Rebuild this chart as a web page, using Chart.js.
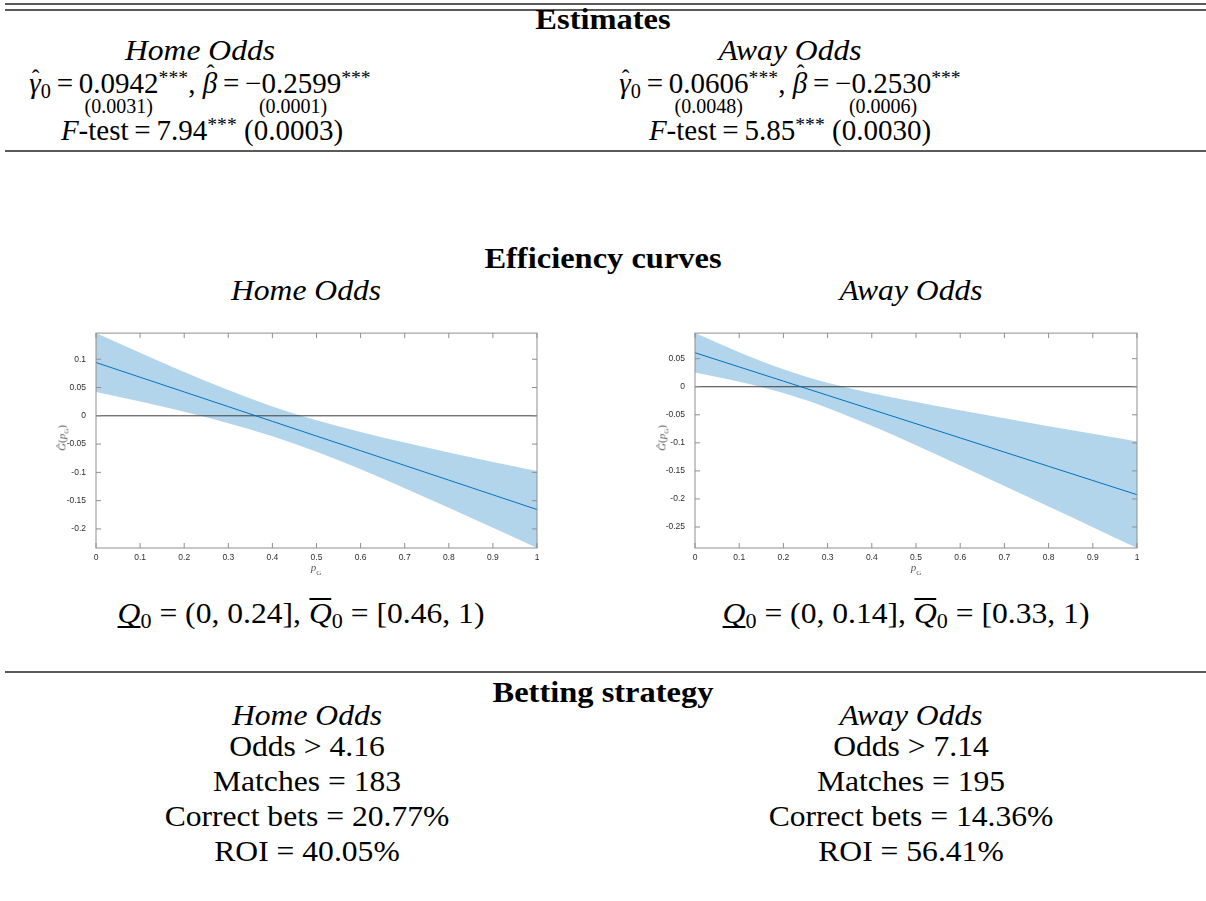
<!DOCTYPE html>
<html lang="en">

<head>
    <meta charset="UTF-8">
    <title>Estimates, efficiency curves and betting strategy</title>
    <script src="https://cdn.jsdelivr.net/npm/chart.js"></script>
    <style>
        body { margin: 0; background: #fff; }
        #page { position: relative; width: 1206px; height: 901px; overflow: hidden; }
        .t {
            position: absolute; transform: translateX(-50%) scaleX(1.09); white-space: nowrap;
            font-family: "Liberation Serif", serif; font-size: 29px; line-height: 30px; color: #000;
        }
        .b { font-weight: bold; transform: translateX(-50%) scaleX(1.12); }
        .n { transform: translateX(-50%); }
        .i { font-style: italic; }
        .rule { position: absolute; left: 5px; right: 0; height: 2px; background: #5a5a5a; }
        .st { font-size: 0.68em; vertical-align: 0.45em; line-height: 0; }
        .sb { font-size: 0.7em; vertical-align: -0.25em; line-height: 0; font-style: normal; }
        .eq { margin: 0 0.2em; }
        .hat { position: relative; display: inline-block; font-style: italic; }
        .hat::after { content: "\02C6"; position: absolute; left: 55%; transform: translateX(-50%); font-style: normal; font-size: 0.8em; }
        .hg::after { top: -0.2em; }
        .hb::after { top: -0.42em; }
        .us { position: relative; display: inline-block; }
        .us .low { position: absolute; left: 50%; top: 28px; transform: translateX(-50%); font-size: 20px; line-height: 20px; }
        .ul { display: inline-block; border-bottom: 2px solid #000; line-height: 26px; font-style: italic; }
        .ol { display: inline-block; border-top: 2px solid #000; line-height: 26px; font-style: italic; }
        canvas { position: absolute; }
        .ax { position: absolute; font-family: "Liberation Serif", serif; font-size: 11px; color: #555; white-space: nowrap; }
        .ax sub { font-size: 7px; }
    </style>
</head>

<body>
    <div id="page">
        <div class="rule" style="top:3px"></div>
        <div class="rule" style="top:9px"></div>

        <div class="t b" style="left:603px; top:4px">Estimates</div>
        <div class="t i" style="left:200px; top:35px">Home Odds</div>
        <div class="t i" style="left:790px; top:35px">Away Odds</div>
        <div class="t n" style="left:200px; top:68px"><span class="hat hg">γ</span><span class="sb">0</span><span class="eq">=</span><span class="us">0.0942<span class="low">(0.0031)</span></span><span class="st">***</span>, <span class="hat hb">β</span><span class="eq">=</span><span class="us">−0.2599<span class="low">(0.0001)</span></span><span class="st">***</span></div>
        <div class="t n" style="left:790px; top:68px"><span class="hat hg">γ</span><span class="sb">0</span><span class="eq">=</span><span class="us">0.0606<span class="low">(0.0048)</span></span><span class="st">***</span>, <span class="hat hb">β</span><span class="eq">=</span><span class="us">−0.2530<span class="low">(0.0006)</span></span><span class="st">***</span></div>
        <div class="t n" style="left:202px; top:115px"><i>F</i>-test<span class="eq">=</span>7.94<span class="st">***</span> (0.0003)</div>
        <div class="t n" style="left:790px; top:115px"><i>F</i>-test<span class="eq">=</span>5.85<span class="st">***</span> (0.0030)</div>
        <div class="rule" style="top:150px"></div>

        <div class="t b" style="left:603px; top:243px">Efficiency curves</div>
        <div class="t i" style="left:306px; top:275px">Home Odds</div>
        <div class="t i" style="left:911px; top:275px">Away Odds</div>

        <canvas id="homeChart" width="530" height="262" style="left:20px; top:318px"></canvas>
        <canvas id="awayChart" width="530" height="262" style="left:620px; top:318px"></canvas>
        <div class="ax" style="left:63px; top:438px; transform:translate(-50%,-50%) rotate(-90deg)"><i>Ĝ</i>(<i>p</i><sub>G</sub>)</div>
        <div class="ax" style="left:316px; top:569px; transform:translate(-50%,-50%)"><i>p</i><sub>G</sub></div>
        <div class="ax" style="left:663px; top:438px; transform:translate(-50%,-50%) rotate(-90deg)"><i>Ĝ</i>(<i>p</i><sub>G</sub>)</div>
        <div class="ax" style="left:916px; top:569px; transform:translate(-50%,-50%)"><i>p</i><sub>G</sub></div>

        <div class="t" style="left:301px; top:598px"><span class="ul">Q</span><span class="sb">0</span> = (0, 0.24], <span class="ol">Q</span><span class="sb">0</span> = [0.46, 1)</div>
        <div class="t" style="left:906px; top:598px"><span class="ul">Q</span><span class="sb">0</span> = (0, 0.14], <span class="ol">Q</span><span class="sb">0</span> = [0.33, 1)</div>
        <div class="rule" style="top:671px"></div>

        <div class="t b" style="left:603px; top:677px">Betting strategy</div>
        <div class="t i" style="left:307px; top:700px">Home Odds</div>
        <div class="t i" style="left:911px; top:700px">Away Odds</div>
        <div class="t" style="left:307px; top:731px">Odds &gt; 4.16</div>
        <div class="t" style="left:911px; top:731px">Odds &gt; 7.14</div>
        <div class="t" style="left:307px; top:766px">Matches = 183</div>
        <div class="t" style="left:911px; top:766px">Matches = 195</div>
        <div class="t" style="left:307px; top:801px">Correct bets = 20.77%</div>
        <div class="t" style="left:911px; top:801px">Correct bets = 14.36%</div>
        <div class="t" style="left:307px; top:836px">ROI = 40.05%</div>
        <div class="t" style="left:911px; top:836px">ROI = 56.41%</div>
    </div>

    <script>
        // p_G grid
        const pG = [0, 0.1, 0.2, 0.3, 0.4, 0.5, 0.6, 0.7, 0.8, 0.9, 1];

        // Home odds: fitted curve and confidence band
        const homeFit = [0.0942, 0.0682, 0.0422, 0.0162, -0.0098, -0.0358, -0.0617, -0.0877, -0.1137, -0.1397, -0.1657];
        const homeUpper = [0.1462, 0.1113, 0.0774, 0.0454, 0.0166, -0.0080, -0.0288, -0.0474, -0.0648, -0.0815, -0.0977];
        const homeLower = [0.0422, 0.0251, 0.0070, -0.0130, -0.0362, -0.0636, -0.0946, -0.1280, -0.1626, -0.1979, -0.2337];

        // Away odds
        const awayFit = [0.0606, 0.0353, 0.0100, -0.0153, -0.0406, -0.0659, -0.0912, -0.1165, -0.1418, -0.1671, -0.1924];
        const awayUpper = [0.0956, 0.0616, 0.0312, 0.0071, -0.0115, -0.0274, -0.0421, -0.0563, -0.0702, -0.0838, -0.0974];
        const awayLower = [0.0256, 0.0090, -0.0112, -0.0377, -0.0697, -0.1044, -0.1403, -0.1767, -0.2134, -0.2504, -0.2874];

        // zero reference line
        const zeroX = [0, 1];
        const zeroY = [0, 0];

        // ticks
        const xTicks = [0, 0.1, 0.2, 0.3, 0.4, 0.5, 0.6, 0.7, 0.8, 0.9, 1];
        const homeYTicks = [-0.2, -0.15, -0.1, -0.05, 0, 0.05, 0.1];
        const awayYTicks = [-0.25, -0.2, -0.15, -0.1, -0.05, 0, 0.05];

        const toPoints = (xs, ys) => xs.map((x, i) => ({ x: x, y: ys[i] }));
        const fmt = v => String(+(+v).toFixed(2));

        // matlab style box with inward ticks
        const boxPlugin = {
            id: 'box',
            afterDatasetsDraw(chart) {
                const ctx = chart.ctx, a = chart.chartArea;
                const sx = chart.scales.x, sy = chart.scales.y;
                ctx.save();
                ctx.strokeStyle = '#8f8f8f';
                ctx.lineWidth = 1;
                ctx.strokeRect(a.left, a.top, a.right - a.left, a.bottom - a.top);
                ctx.beginPath();
                sx.ticks.forEach(t => {
                    const px = sx.getPixelForValue(t.value);
                    ctx.moveTo(px, a.bottom); ctx.lineTo(px, a.bottom - 5);
                    ctx.moveTo(px, a.top); ctx.lineTo(px, a.top + 5);
                });
                sy.ticks.forEach(t => {
                    const py = sy.getPixelForValue(t.value);
                    ctx.moveTo(a.left, py); ctx.lineTo(a.left + 5, py);
                    ctx.moveTo(a.right, py); ctx.lineTo(a.right - 5, py);
                });
                ctx.stroke();
                ctx.restore();
            }
        };

        function makeChart(id, fit, upper, lower, yTicks, yMin, yMax, yWidth) {
            const tickFont = { family: 'Liberation Sans', size: 8.5 };
            return new Chart(document.getElementById(id), {
                type: 'line',
                data: {
                    datasets: [
                        { data: toPoints(pG, upper), borderWidth: 0, pointRadius: 0, fill: '+1', backgroundColor: 'rgb(179,213,235)', cubicInterpolationMode: 'monotone', order: 3 },
                        { data: toPoints(pG, lower), borderWidth: 0, pointRadius: 0, fill: false, cubicInterpolationMode: 'monotone', order: 3 },
                        { data: toPoints(zeroX, zeroY), borderColor: '#3c3c3c', borderWidth: 1, pointRadius: 0, fill: false, order: 2 },
                        { data: toPoints(pG, fit), borderColor: '#0072BD', borderWidth: 1, pointRadius: 0, fill: false, order: 1 }
                    ]
                },
                options: {
                    responsive: false,
                    animation: false,
                    events: [],
                    layout: { padding: { left: 0, right: 13, top: 10, bottom: 0 } },
                    plugins: {
                        legend: { display: false },
                        tooltip: { enabled: false },
                        filler: { drawTime: 'beforeDatasetsDraw' }
                    },
                    scales: {
                        x: {
                            type: 'linear', min: 0, max: 1,
                            afterBuildTicks: s => { s.ticks = xTicks.map(v => ({ value: v })); },
                            afterFit: s => { s.height = 32; },
                            grid: { display: false, drawTicks: false },
                            border: { display: false },
                            ticks: { padding: 5, font: tickFont, color: '#2e2e2e', callback: fmt, maxRotation: 0, autoSkip: false }
                        },
                        y: {
                            min: yMin, max: yMax,
                            afterBuildTicks: s => { s.ticks = yTicks.map(v => ({ value: v })); },
                            afterFit: s => { s.width = yWidth; },
                            grid: { display: false, drawTicks: false },
                            border: { display: false },
                            ticks: { padding: 10, font: tickFont, color: '#2e2e2e', callback: fmt, autoSkip: false }
                        }
                    }
                },
                plugins: [boxPlugin]
            });
        }

        makeChart('homeChart', homeFit, homeUpper, homeLower, homeYTicks, -0.2337, 0.1462, 76);
        makeChart('awayChart', awayFit, awayUpper, awayLower, awayYTicks, -0.2874, 0.0956, 75);
    </script>
</body>

</html>
